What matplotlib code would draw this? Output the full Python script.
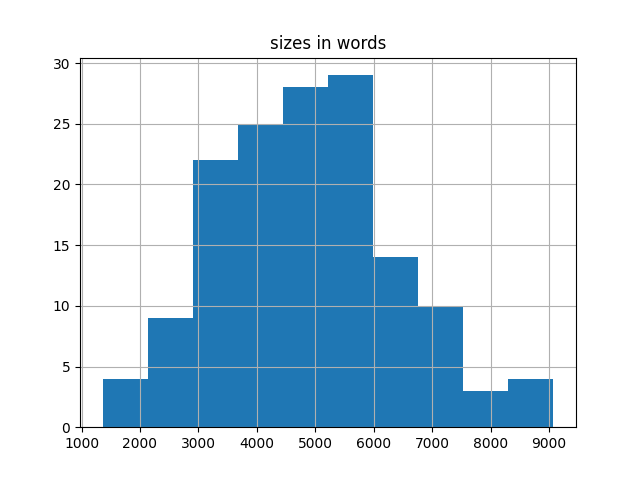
import numpy as np
import matplotlib
matplotlib.use("Agg")
import matplotlib.pyplot as plt

# histogram of document sizes (counts)
bin_start = 1360
bin_end = 9074
counts = [4, 9, 22, 25, 28, 29, 14, 10, 3, 4]

edges = np.linspace(bin_start, bin_end, len(counts) + 1)
centers = (edges[:-1] + edges[1:]) / 2

fig, ax = plt.subplots(figsize=(6.4, 4.8), dpi=100)
ax.hist(centers, bins=edges, weights=counts, color='C0')
ax.grid(True)
ax.set_title('sizes in words')

fig.savefig('out.png')
